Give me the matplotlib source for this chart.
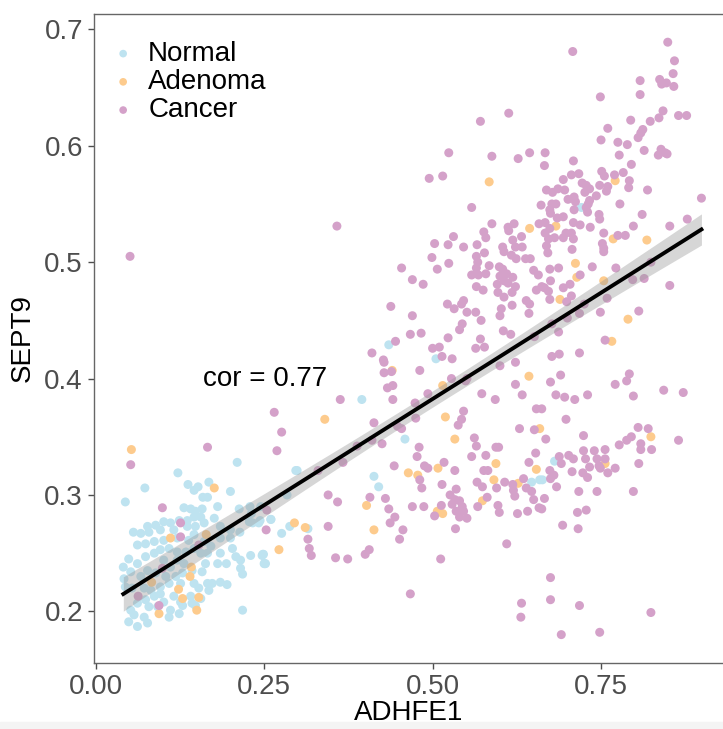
import numpy as np
import matplotlib.pyplot as plt
from matplotlib.patches import Rectangle

plt.rcParams['font.family'] = ['Liberation Sans', 'DejaVu Sans']

# ---------------- data ----------------
normal_x = [0.210, 0.122, 0.073, 0.044, 0.137, 0.146, 0.152, 0.168, 0.159, 0.166,
            0.200, 0.181, 0.213, 0.229, 0.245, 0.131, 0.141, 0.148, 0.158, 0.146,
            0.156, 0.136, 0.124, 0.111, 0.101, 0.089, 0.077, 0.056, 0.067, 0.079,
            0.096, 0.116, 0.136, 0.148, 0.161, 0.176, 0.185, 0.200, 0.214, 0.228,
            0.242, 0.101, 0.087, 0.074, 0.062, 0.121, 0.138, 0.146, 0.161, 0.171,
            0.185, 0.200, 0.166, 0.185, 0.203, 0.208, 0.215, 0.230, 0.247, 0.250,
            0.215, 0.218, 0.181, 0.194, 0.049, 0.041, 0.062, 0.074, 0.087, 0.096,
            0.109, 0.121, 0.134, 0.146, 0.156, 0.101, 0.121, 0.131, 0.111, 0.143,
            0.158, 0.163, 0.052, 0.042, 0.067, 0.077, 0.089, 0.104, 0.119, 0.129,
            0.146, 0.126, 0.109, 0.096, 0.082, 0.072, 0.054, 0.044, 0.166, 0.168,
            0.153, 0.185, 0.195, 0.156, 0.141, 0.116, 0.096, 0.087, 0.074, 0.062,
            0.052, 0.057, 0.049, 0.062, 0.072, 0.077, 0.079, 0.092, 0.101, 0.111,
            0.124, 0.129, 0.143, 0.109, 0.126, 0.218, 0.173, 0.148,
            0.284, 0.297, 0.252, 0.249, 0.260, 0.244, 0.276,
            0.435, 0.395, 0.459, 0.299, 0.413, 0.420, 0.231, 0.260, 0.233, 0.288,
            0.315, 0.248, 0.251, 0.681, 0.647, 0.659, 0.721, 0.505, 0.663]
normal_y = [0.328, 0.319, 0.306, 0.294, 0.309, 0.304, 0.307, 0.311, 0.298, 0.298,
            0.303, 0.290, 0.288, 0.290, 0.290, 0.289, 0.288, 0.286, 0.288, 0.281,
            0.281, 0.278, 0.278, 0.276, 0.277, 0.274, 0.273, 0.268, 0.267, 0.268,
            0.270, 0.270, 0.273, 0.273, 0.276, 0.280, 0.273, 0.270, 0.268, 0.277,
            0.276, 0.261, 0.260, 0.258, 0.257, 0.263, 0.261, 0.266, 0.260, 0.256,
            0.263, 0.263, 0.250, 0.250, 0.254, 0.247, 0.244, 0.248, 0.248, 0.241,
            0.237, 0.232, 0.241, 0.241, 0.245, 0.238, 0.241, 0.247, 0.250, 0.253,
            0.254, 0.251, 0.251, 0.254, 0.250, 0.244, 0.244, 0.241, 0.238, 0.235,
            0.234, 0.241, 0.234, 0.228, 0.230, 0.235, 0.233, 0.230, 0.230, 0.233,
            0.224, 0.224, 0.224, 0.221, 0.218, 0.220, 0.220, 0.221, 0.224, 0.218,
            0.220, 0.225, 0.223, 0.211, 0.213, 0.213, 0.215, 0.213, 0.210, 0.207,
            0.201, 0.197, 0.191, 0.187, 0.195, 0.190, 0.204, 0.204, 0.208, 0.201,
            0.198, 0.205, 0.207, 0.195, 0.208, 0.201, 0.224, 0.205,
            0.300, 0.321, 0.241, 0.249, 0.279, 0.278, 0.267,
            0.429, 0.382, 0.348, 0.321, 0.316, 0.307, 0.284, 0.279, 0.276, 0.273,
            0.271, 0.249, 0.241, 0.329, 0.311, 0.313, 0.547, 0.417, 0.313]

adenoma_x = [0.053, 0.176, 0.111, 0.164, 0.142, 0.140, 0.083, 0.123, 0.129, 0.153,
             0.094, 0.150, 0.340, 0.295, 0.311, 0.272, 0.440, 0.402, 0.413, 0.464,
             0.478, 0.643, 0.515, 0.519, 0.533, 0.508, 0.594, 0.591, 0.654, 0.659,
             0.756, 0.824, 0.507, 0.515, 0.574, 0.627, 0.584, 0.771, 0.644, 0.683,
             0.768, 0.818, 0.712, 0.714, 0.754, 0.689, 0.790, 0.766]
adenoma_y = [0.339, 0.306, 0.263, 0.266, 0.238, 0.230, 0.225, 0.219, 0.211, 0.212,
             0.198, 0.201, 0.365, 0.276, 0.272, 0.253, 0.407, 0.291, 0.270, 0.319,
             0.317, 0.402, 0.394, 0.367, 0.348, 0.323, 0.327, 0.313, 0.322, 0.357,
             0.327, 0.350, 0.286, 0.284, 0.295, 0.310, 0.569, 0.570, 0.529, 0.531,
             0.520, 0.519, 0.499, 0.487, 0.484, 0.468, 0.451, 0.432]

cancer_x = [0.051, 0.358, 0.166, 0.052, 0.099, 0.126, 0.126, 0.153, 0.099, 0.063,
            0.094, 0.265, 0.276, 0.269, 0.363, 0.367, 0.345, 0.359, 0.345, 0.315,
            0.317, 0.320, 0.356, 0.374, 0.254, 0.253, 0.388, 0.330, 0.474, 0.430,
            # upper right
            0.849, 0.859, 0.857, 0.808, 0.837, 0.840, 0.847, 0.858, 0.808, 0.749,
            0.708, 0.613, 0.571, 0.842, 0.836, 0.823, 0.794, 0.865, 0.877, 0.760,
            0.812, 0.809, 0.805, 0.750, 0.775, 0.789, 0.814, 0.839, 0.845, 0.835,
            0.848, 0.524, 0.588, 0.627, 0.644, 0.667, 0.666, 0.709, 0.777, 0.795,
            0.495, 0.515, 0.751, 0.755, 0.770, 0.783, 0.792, 0.791, 0.819, 0.706,
            0.717, 0.694, 0.669, 0.678, 0.686, 0.696, 0.722, 0.728, 0.733, 0.726,
            0.748, 0.760, 0.758, 0.743, 0.701, 0.710, 0.712, 0.733, 0.731, 0.728,
            0.710, 0.730, 0.661, 0.677, 0.683, 0.674, 0.675, 0.694, 0.685, 0.899,
            0.778, 0.811, 0.747, 0.748, 0.878, 0.852, 0.798, 0.558, 0.588, 0.576,
            0.579, 0.531, 0.523, 0.503, 0.499, 0.507, 0.454, 0.470, 0.486, 0.524,
            0.546, 0.566, 0.577, 0.612, 0.621, 0.613, 0.619, 0.632, 0.623, 0.633,
            0.617, 0.624, 0.638, 0.645, 0.604, 0.606, 0.658, 0.667, 0.674, 0.667,
            0.672, 0.669, 0.671, 0.681, 0.694, 0.698, 0.706, 0.709, 0.707, 0.719,
            0.709, 0.734, 0.754, 0.775, 0.786, 0.752, 0.754, 0.754, 0.565, 0.567,
            0.565, 0.558, 0.568, 0.579, 0.584, 0.599, 0.604, 0.610, 0.600, 0.606,
            0.619, 0.623, 0.612, 0.596, 0.597, 0.618, 0.606, 0.565, 0.575, 0.650,
            0.657, 0.674, 0.687, 0.675, 0.662, 0.666, 0.672, 0.654, 0.674, 0.694,
            0.704, 0.699, 0.706, 0.719, 0.737, 0.772, 0.824, 0.797, 0.814, 0.852,
            0.759, 0.806, 0.756, 0.522, 0.532, 0.543, 0.546, 0.551, 0.564, 0.544,
            0.540, 0.572, 0.523, 0.483, 0.467, 0.470, 0.438, 0.445, 0.410, 0.500,
            0.510, 0.514, 0.529, 0.564, 0.577, 0.571, 0.605, 0.616, 0.651, 0.602,
            0.600, 0.618, 0.639, 0.644, 0.643, 0.677, 0.687, 0.700, 0.718, 0.725,
            0.749, 0.688, 0.677, 0.718, 0.427,
            # lower right
            0.428, 0.428, 0.439, 0.481, 0.433, 0.441, 0.441, 0.493, 0.528, 0.549,
            0.551, 0.573, 0.593, 0.600, 0.623, 0.623, 0.633, 0.675, 0.690, 0.683,
            0.696, 0.711, 0.730, 0.771, 0.788, 0.792, 0.798, 0.843, 0.872, 0.413,
            0.410, 0.425, 0.448, 0.454, 0.475, 0.538, 0.543, 0.546, 0.480, 0.477,
            0.443, 0.488, 0.493, 0.481, 0.484, 0.517, 0.533, 0.562, 0.565, 0.558,
            0.579, 0.594, 0.598, 0.576, 0.582, 0.566, 0.574, 0.514, 0.535, 0.526,
            0.513, 0.533, 0.529, 0.540, 0.544, 0.535, 0.546, 0.540, 0.551, 0.534,
            0.503, 0.487, 0.470, 0.407, 0.435, 0.444, 0.437, 0.456, 0.451, 0.406,
            0.400, 0.512, 0.610, 0.467, 0.567, 0.581, 0.595, 0.597, 0.599, 0.607,
            0.619, 0.620, 0.622, 0.626, 0.635, 0.639, 0.641, 0.647, 0.650, 0.653,
            0.643, 0.629, 0.651, 0.654, 0.662, 0.668, 0.698, 0.658, 0.662, 0.666,
            0.675, 0.674, 0.680, 0.684, 0.688, 0.691, 0.702, 0.709, 0.707, 0.717,
            0.724, 0.724, 0.727, 0.723, 0.733, 0.730, 0.740, 0.744, 0.747, 0.749,
            0.756, 0.756, 0.760, 0.771, 0.744, 0.728, 0.715, 0.716, 0.693, 0.777,
            0.788, 0.795, 0.805, 0.820, 0.809, 0.809, 0.825, 0.806, 0.798, 0.865,
            0.675, 0.675, 0.632, 0.631, 0.718, 0.691, 0.748, 0.824]
cancer_y = [0.505, 0.531, 0.341, 0.326, 0.289, 0.276, 0.264, 0.257, 0.237, 0.213,
            0.205, 0.371, 0.354, 0.338, 0.382, 0.328, 0.300, 0.294, 0.273, 0.262,
            0.254, 0.248, 0.246, 0.245, 0.287, 0.270, 0.342, 0.321, 0.379, 0.297,
            # upper right
            0.689, 0.673, 0.662, 0.656, 0.657, 0.653, 0.654, 0.651, 0.644, 0.642,
            0.681, 0.628, 0.621, 0.630, 0.624, 0.621, 0.622, 0.626, 0.626, 0.615,
            0.614, 0.611, 0.607, 0.605, 0.603, 0.601, 0.596, 0.597, 0.594, 0.592,
            0.593, 0.594, 0.591, 0.589, 0.594, 0.594, 0.583, 0.587, 0.592, 0.584,
            0.572, 0.574, 0.578, 0.574, 0.575, 0.577, 0.570, 0.564, 0.562, 0.575,
            0.576, 0.571, 0.562, 0.560, 0.563, 0.562, 0.568, 0.566, 0.563, 0.560,
            0.566, 0.565, 0.561, 0.557, 0.554, 0.556, 0.552, 0.553, 0.550, 0.547,
            0.545, 0.543, 0.549, 0.550, 0.550, 0.545, 0.542, 0.539, 0.538, 0.555,
            0.550, 0.541, 0.541, 0.537, 0.537, 0.531, 0.531, 0.547, 0.533, 0.526,
            0.521, 0.522, 0.515, 0.516, 0.504, 0.494, 0.495, 0.485, 0.481, 0.499,
            0.513, 0.515, 0.508, 0.530, 0.533, 0.527, 0.519, 0.522, 0.513, 0.513,
            0.506, 0.503, 0.503, 0.503, 0.513, 0.509, 0.533, 0.534, 0.529, 0.525,
            0.520, 0.514, 0.508, 0.521, 0.521, 0.525, 0.525, 0.520, 0.511, 0.532,
            0.534, 0.530, 0.525, 0.523, 0.523, 0.516, 0.512, 0.509, 0.505, 0.500,
            0.495, 0.489, 0.489, 0.490, 0.497, 0.496, 0.494, 0.490, 0.488, 0.484,
            0.487, 0.479, 0.482, 0.481, 0.474, 0.474, 0.470, 0.479, 0.476, 0.493,
            0.489, 0.494, 0.495, 0.484, 0.479, 0.478, 0.475, 0.476, 0.468, 0.478,
            0.481, 0.466, 0.471, 0.489, 0.496, 0.495, 0.500, 0.485, 0.486, 0.480,
            0.469, 0.458, 0.433, 0.464, 0.460, 0.464, 0.467, 0.457, 0.457, 0.447,
            0.442, 0.450, 0.435, 0.439, 0.438, 0.454, 0.462, 0.432, 0.422, 0.426,
            0.427, 0.419, 0.417, 0.426, 0.427, 0.434, 0.441, 0.438, 0.436, 0.460,
            0.454, 0.463, 0.467, 0.464, 0.456, 0.447, 0.440, 0.452, 0.456, 0.464,
            0.457, 0.421, 0.419, 0.422, 0.416,
            # lower right
            0.414, 0.405, 0.406, 0.407, 0.392, 0.394, 0.382, 0.387, 0.400, 0.398,
            0.400, 0.387, 0.382, 0.411, 0.414, 0.395, 0.386, 0.397, 0.403, 0.386,
            0.384, 0.382, 0.386, 0.395, 0.398, 0.404, 0.385, 0.390, 0.388, 0.362,
            0.347, 0.344, 0.359, 0.357, 0.366, 0.360, 0.365, 0.372, 0.341, 0.333,
            0.325, 0.325, 0.323, 0.313, 0.306, 0.328, 0.321, 0.349, 0.342, 0.333,
            0.334, 0.341, 0.341, 0.321, 0.321, 0.311, 0.307, 0.309, 0.305, 0.300,
            0.291, 0.296, 0.292, 0.295, 0.290, 0.286, 0.286, 0.281, 0.280, 0.271,
            0.282, 0.290, 0.290, 0.298, 0.288, 0.281, 0.276, 0.270, 0.262, 0.253,
            0.249, 0.245, 0.258, 0.215, 0.290, 0.298, 0.306, 0.291, 0.285, 0.311,
            0.309, 0.304, 0.299, 0.284, 0.314, 0.306, 0.286, 0.303, 0.296, 0.336,
            0.328, 0.357, 0.356, 0.374, 0.374, 0.348, 0.365, 0.289, 0.288, 0.297,
            0.314, 0.321, 0.317, 0.307, 0.333, 0.327, 0.334, 0.331, 0.320, 0.303,
            0.351, 0.338, 0.331, 0.319, 0.324, 0.315, 0.338, 0.331, 0.325, 0.323,
            0.339, 0.331, 0.319, 0.323, 0.303, 0.287, 0.285, 0.271, 0.274, 0.343,
            0.347, 0.350, 0.358, 0.357, 0.344, 0.339, 0.339, 0.327, 0.303, 0.347,
            0.229, 0.210, 0.207, 0.195, 0.205, 0.180, 0.182, 0.199]

groups = ["Normal", "Adenoma", "Cancer"]
colors = ["#BEE3F0", "#FDCB8D", "#D4A1C9"]
cor_label = "cor = 0.77"

# ---------------- figure ----------------
fig = plt.figure(figsize=(7.23, 7.29), dpi=100)
ax = fig.add_axes([0.130, 0.0905, 0.870, 0.8909])

for name, xs, ys, c in zip(groups,
                           [normal_x, adenoma_x, cancer_x],
                           [normal_y, adenoma_y, cancer_y],
                           colors):
    ax.scatter(xs, ys, s=42, color=c, edgecolors='none', label=name, zorder=2)

# linear fit with 95% band (like geom_smooth(method="lm"))
all_x = np.array(normal_x + adenoma_x + cancer_x)
all_y = np.array(normal_y + adenoma_y + cancer_y)
slope, intercept = np.polyfit(all_x, all_y, 1)
n = len(all_x)
resid = all_y - (slope * all_x + intercept)
s_err = np.sqrt(np.sum(resid ** 2) / (n - 2))
sxx = np.sum((all_x - all_x.mean()) ** 2)
xfit = np.linspace(all_x.min(), all_x.max(), 100)
yfit = slope * xfit + intercept
band = 1.96 * s_err * np.sqrt(1 / n + (xfit - all_x.mean()) ** 2 / sxx)
ax.fill_between(xfit, yfit - band, yfit + band, color='#999999', alpha=0.4,
                linewidth=0, zorder=3)
ax.plot(xfit, yfit, color='black', linewidth=2.8, zorder=4)

ax.text(0.252, 0.40, cor_label, fontsize=20, ha='center', va='center', color='black')

ax.set_xlim(-0.0025, 0.931)
ax.set_ylim(0.1556, 0.7136)
ax.set_xticks([0.0, 0.25, 0.5, 0.75])
ax.set_xticklabels(["0.00", "0.25", "0.50", "0.75"])
ax.set_yticks([0.2, 0.3, 0.4, 0.5, 0.6, 0.7])
ax.tick_params(labelsize=20, labelcolor='#4D4D4D', color='#4D4D4D',
               length=4, width=1, pad=4)
ax.set_xlabel("ADHFE1", fontsize=20, labelpad=0)
ax.set_ylabel("SEPT9", fontsize=20, labelpad=6)
for side in ['left', 'top', 'bottom']:
    ax.spines[side].set_color('#666666')
    ax.spines[side].set_linewidth(1)
ax.spines['right'].set_visible(False)

ax.legend(loc='upper left', frameon=False, fontsize=20, markerscale=0.85,
          handlelength=1.3, handletextpad=0.25, labelspacing=0.08,
          borderaxespad=0.0, bbox_to_anchor=(0.0, 0.975))

fig.patches.append(Rectangle((0, 0), 1, 7 / 729, transform=fig.transFigure,
                             color='#F4F4F4', zorder=0))

fig.savefig("out.png", dpi=100)
